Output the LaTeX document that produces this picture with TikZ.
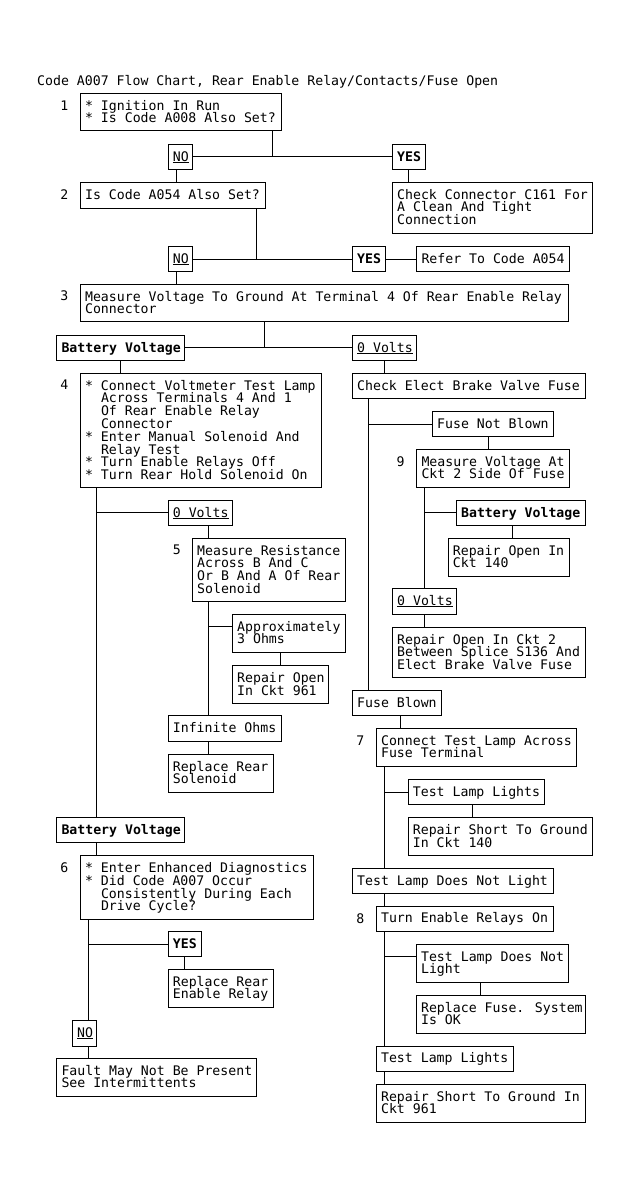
\documentclass[tikz,border=0pt]{standalone}
\usepackage{fontspec}
\newfontfamily\mono{DejaVu Sans Mono}
\newcommand\mf{\mono\fontsize{13.2}{12.8}\selectfont}
\newsavebox\ulbox
\newcommand\ul[1]{\sbox\ulbox{#1}\rlap{\rule[-1.6pt]{\wd\ulbox}{0.9pt}}\usebox\ulbox}
\newcommand\ind{\hspace*{15.9pt}}
\tikzset{
  box/.style={draw, line width=1pt, anchor=north west, inner sep=0pt, outer sep=0pt},
  txt/.style={anchor=base west, inner sep=0pt, font=\mf},
  lab/.style={inner sep=0pt, font=\mf},
  ln/.style={line width=1pt}
}
\newcommand\B[6]{%
  \node[box, minimum width=#4pt, minimum height=#5pt] (#1) at (#2,#3) {};
  \node[txt] (#1t) at ([shift={(4.5pt,-16.8pt)}]#1.north west)
    {\vtop{\baselineskip=12.8pt\lineskiplimit=-\maxdimen\lineskip=0pt\halign{##\hfil\cr#6\crcr}}};}
\begin{document}
\begin{tikzpicture}[x=1pt,y=-1pt]
\fill[white] (0,0) rectangle (631,1198);
\useasboundingbox (0,0) rectangle (631,1198);

\node[txt] (title) at (37,85.5) {Code A007 Flow Chart, Rear Enable Relay/Contacts/Fuse Open};

% step labels
\node[lab] (l1) at (64.3,105.7) {1};
\node[lab] (l2) at (64.3,195) {2};
\node[lab] (l3) at (64.3,296) {3};
\node[lab] (l4) at (64.3,384.3) {4};
\node[lab] (l5) at (176.8,549.7) {5};
\node[lab] (l9) at (400.7,461.7) {9};
\node[lab] (l7) at (360.4,740.3) {7};
\node[lab] (l6) at (64.3,867.3) {6};
\node[lab] (l8) at (360.4,919) {8};

% boxes
\B{b1}{80.4}{93.3}{200.6}{37.7}{* Ignition In Run\cr * Is Code A008 Also Set?}
\B{no1}{168.2}{144.3}{24.3}{25}{\ul{NO}}
\B{yes1}{392.5}{144.3}{32.5}{25}{\textbf{YES}}
\B{chk}{392.5}{182.3}{200.4}{51}{Check Connector C161 For\cr A Clean And Tight\cr Connection}
\B{b2}{80.4}{182.3}{184.6}{26}{Is Code A054 Also Set?}
\B{no2}{168.2}{246.7}{24.3}{25}{\ul{NO}}
\B{yes2}{352.5}{246.7}{32.9}{25}{\textbf{YES}}
\B{ref}{416.8}{246.7}{152.5}{25}{Refer To Code A054}
\B{b3}{80.4}{284.3}{488.2}{37.4}{Measure Voltage To Ground At Terminal 4 Of Rear Enable Relay\cr Connector}
\B{bv1}{56.8}{335.7}{127.8}{24.3}{\textbf{Battery Voltage}}
\B{zv1}{352.5}{335.7}{64.3}{24.3}{\ul{0 Volts}}
\B{b4}{80.4}{373.3}{240.6}{113.7}{* Connect Voltmeter Test Lamp\cr \ind Across Terminals 4 And 1\cr \ind Of Rear Enable Relay\cr \ind Connector\cr * Enter Manual Solenoid And\cr \ind Relay Test\cr * Turn Enable Relays Off\cr * Turn Rear Hold Solenoid On}
\B{chkE}{352.5}{373.3}{232.9}{25}{Check Elect Brake Valve Fuse}
\B{zv2}{168.2}{500.7}{64.7}{24.3}{\ul{0 Volts}}
\B{b5}{192.5}{538.3}{152.9}{62.7}{Measure Resistance\cr Across B And C\cr Or B And A Of Rear\cr Solenoid}
\B{fnb}{432.5}{411.7}{120.7}{25}{Fuse Not Blown}
\B{b9}{416.8}{449.3}{152.2}{37.7}{Measure Voltage At\cr Ckt 2 Side Of Fuse}
\B{bv9}{456.4}{500.3}{129}{25}{\textbf{Battery Voltage}}
\B{ro140}{448.2}{538.3}{120.8}{38.4}{Repair Open In\cr Ckt 140}
\B{zv3}{392.5}{588.3}{64.3}{25.7}{\ul{0 Volts}}
\B{approx}{232.5}{614.3}{112.9}{38}{Approximately\cr 3 Ohms}
\B{ro961}{232.5}{665.7}{96.1}{37.6}{Repair Open\cr In Ckt 961}
\B{ro2}{392.5}{627.3}{192.9}{50}{Repair Open In Ckt 2\cr Between Splice S136 And\cr Elect Brake Valve Fuse}
\B{inf}{168.2}{715.7}{112.8}{25.3}{Infinite Ohms}
\B{rrs}{168.2}{754.3}{105}{38}{Replace Rear\cr Solenoid}
\B{fb}{352.5}{690.3}{88.5}{25.4}{Fuse Blown}
\B{b7}{376.4}{728.3}{200.4}{37.7}{Connect Test Lamp Across\cr Fuse Terminal}
\B{tll1}{408.2}{779.7}{136.4}{24.6}{Test Lamp Lights}
\B{rs140}{408.2}{817.7}{184.7}{38}{Repair Short To Ground\cr In Ckt 140}
\B{bv2}{56.8}{817.3}{127.8}{25}{\textbf{Battery Voltage}}
\B{b6}{80.4}{855.7}{232.8}{63.3}{* Enter Enhanced Diagnostics\cr * Did Code A007 Occur\cr \ind Consistently During Each\cr \ind Drive Cycle?}
\B{tldnl1}{352.5}{868.3}{200.7}{25}{Test Lamp Does Not Light}
\B{b8}{376.4}{906}{176.8}{25}{Turn Enable Relays On}
\B{yes6}{168.2}{931.3}{32.8}{25.4}{\textbf{YES}}
\B{rrer}{168.2}{969.3}{105}{38}{Replace Rear\cr Enable Relay}
\B{no6}{72.5}{1020.3}{23.9}{25.7}{\ul{NO}}
\B{fault}{56.8}{1058.3}{200}{38}{Fault May Not Be Present\cr See Intermittents}
\B{tldnl2}{416.4}{944.3}{152.2}{38}{Test Lamp Does Not\cr Light}
\B{rfuse}{416.4}{995.3}{169}{38}{Replace Fuse. System\cr Is OK}
\B{tll2}{376.4}{1046}{136.8}{25}{Test Lamp Lights}
\B{rs961}{376.4}{1084.3}{209}{38}{Repair Short To Ground In\cr Ckt 961}

% connector x positions / y levels
\coordinate (xa) at (176.8,0);
\coordinate (xb) at (272.9,0);
\coordinate (xc) at (408.6,0);
\coordinate (xd) at (256.8,0);
\coordinate (xe) at (264.3,0);
\coordinate (xf) at (120.4,0);
\coordinate (xg) at (384,0);
\coordinate (xh) at (96.4,0);
\coordinate (xi) at (208.2,0);
\coordinate (xj) at (280.4,0);
\coordinate (xk) at (368.2,0);
\coordinate (xl) at (488.2,0);
\coordinate (xm) at (424.3,0);
\coordinate (xn) at (512.5,0);
\coordinate (xo) at (400.4,0);
\coordinate (xp) at (384.3,0);
\coordinate (xq) at (472.5,0);
\coordinate (xr) at (88.2,0);
\coordinate (xs) at (184.3,0);
\coordinate (xt) at (480.4,0);
\coordinate (ya) at (0,626.7);
\coordinate (yb) at (0,956.7);

\draw[ln] (xb |- b1.south) -- (xb |- no1.east);
\draw[ln] (no1.east) -- (yes1.west);
\draw[ln] (xa |- no1.south) -- (xa |- b2.north);
\draw[ln] (xc |- yes1.south) -- (xc |- chk.north);
\draw[ln] (xd |- b2.south) -- (xd |- no2.east);
\draw[ln] (no2.east) -- (yes2.west);
\draw[ln] (yes2.east) -- (ref.west);
\draw[ln] (xa |- no2.south) -- (xa |- b3.north);
\draw[ln] (xe |- b3.south) -- (xe |- bv1.east);
\draw[ln] (bv1.east) -- (zv1.west);
\draw[ln] (xf |- bv1.south) -- (xf |- b4.north);
\draw[ln] (xg |- zv1.south) -- (xg |- chkE.north);
\draw[ln] (xh |- b4.south) -- (xh |- bv2.north);
\draw[ln] (xh |- zv2.west) -- (zv2.west);
\draw[ln] (xi |- zv2.south) -- (xi |- b5.north);
\draw[ln] (xi |- b5.south) -- (xi |- inf.north);
\draw[ln] (xi |- ya) -- (ya -| approx.west);
\draw[ln] (xj |- approx.south) -- (xj |- ro961.north);
\draw[ln] (xi |- inf.south) -- (xi |- rrs.north);
\draw[ln] (xk |- chkE.south) -- (xk |- fb.north);
\draw[ln] (xk |- fnb.west) -- (fnb.west);
\draw[ln] (xl |- fnb.south) -- (xl |- b9.north);
\draw[ln] (xm |- b9.south) -- (xm |- zv3.north);
\draw[ln] (xm |- bv9.west) -- (bv9.west);
\draw[ln] (xn |- bv9.south) -- (xn |- ro140.north);
\draw[ln] (xm |- zv3.south) -- (xm |- ro2.north);
\draw[ln] (xo |- fb.south) -- (xo |- b7.north);
\draw[ln] (xp |- b7.south) -- (xp |- tldnl1.north);
\draw[ln] (xp |- tll1.west) -- (tll1.west);
\draw[ln] (xq |- tll1.south) -- (xq |- rs140.north);
\draw[ln] (xh |- bv2.south) -- (xh |- b6.north);
\draw[ln] (xp |- tldnl1.south) -- (xp |- b8.north);
\draw[ln] (xr |- b6.south) -- (xr |- no6.north);
\draw[ln] (xr |- yes6.west) -- (yes6.west);
\draw[ln] (xs |- yes6.south) -- (xs |- rrer.north);
\draw[ln] (xr |- no6.south) -- (xr |- fault.north);
\draw[ln] (xp |- b8.south) -- (xp |- tll2.north);
\draw[ln] (xp |- yb) -- (yb -| tldnl2.west);
\draw[ln] (xt |- tldnl2.south) -- (xt |- rfuse.north);
\draw[ln] (xp |- tll2.south) -- (xp |- rs961.north);
\end{tikzpicture}
\end{document}
